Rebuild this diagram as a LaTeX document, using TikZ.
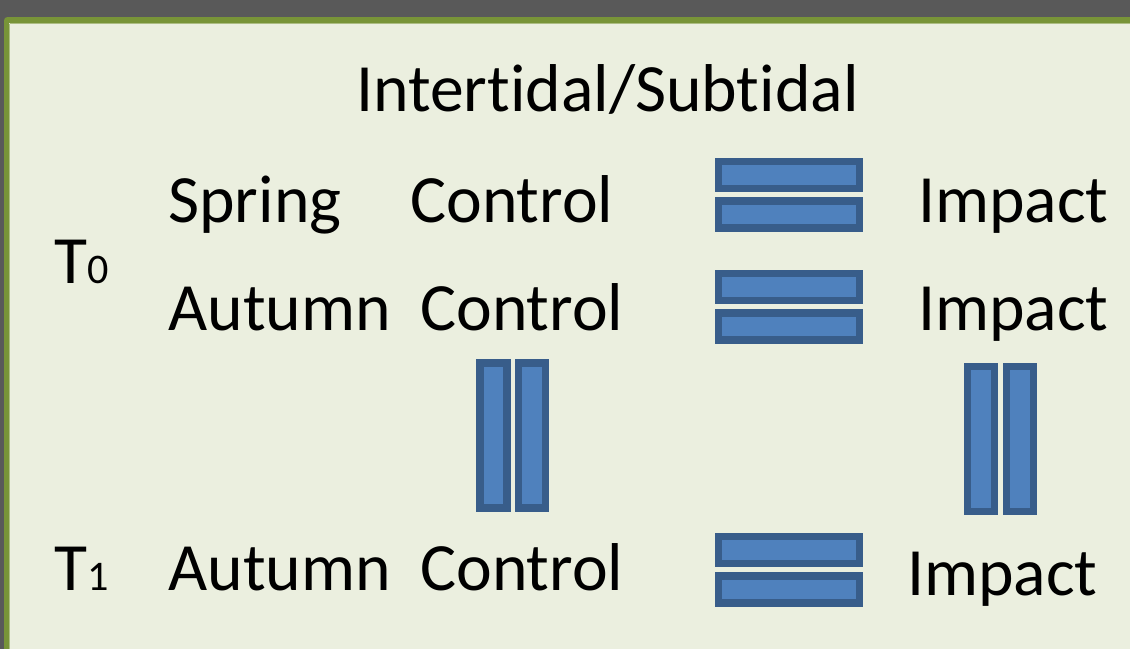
\documentclass[tikz,border=0pt]{standalone}
\usepackage{fontspec}
\setmainfont[Ligatures={NoCommon}]{Carlito}
\definecolor{frame}{HTML}{595959}
\definecolor{olive}{HTML}{789438}
\definecolor{paper}{HTML}{EBEFDF}
\definecolor{barfill}{HTML}{4F81BD}
\definecolor{barline}{HTML}{385D8A}
\newlength{\pxu}
\setlength{\pxu}{0.02cm}
\tikzset{
  lbl/.style={anchor=base west, inner sep=0pt, font=\fontsize{38.5}{44}\selectfont},
  hbar/.style={draw=barline, fill=barfill, line width=4pt, inner sep=0pt,
               minimum width=141\pxu, minimum height=27\pxu},
  vbar/.style={draw=barline, fill=barfill, line width=4pt, inner sep=0pt,
               minimum width=27\pxu, minimum height=145\pxu},
}
\begin{document}
\begin{tikzpicture}[x=0.02cm, y=-0.02cm]
  % page, frame and panel
  \fill[frame] (0,0) rectangle (1130,649);
  \useasboundingbox (0,0) rectangle (1130,649);
  \fill[olive, rounded corners=2pt] (4,17) rectangle (1140,660);
  \fill[paper] (9,23) rectangle (1140,660);
  \draw[olive!55!paper, line width=0.6pt] (9.5,23.5) -- (1140,23.5);
  \draw[olive!55!paper, line width=0.6pt] (9.5,23.5) -- (9.5,660);

  % heading
  \node[lbl] (head) at (356,111) {Intertidal/Subtidal};

  % time labels
  \node[lbl] (t0) at (54,283) {T\fontsize{24}{28}\selectfont 0};
  \node[lbl] (t1) at (54,590) {T\fontsize{24}{28}\selectfont 1};

  % row 1
  \node[lbl] (spring) at (168,222) {Spring};
  \node[lbl] (c1) at (410,222) {Control};
  \node[lbl] (i1) at (918,222) {Impact};
  % row 2
  \node[lbl] (aut2) at (168,330) {Autumn};
  \node[lbl] (c2) at (420,330) {Control};
  \node[lbl] (i2) at (918,330) {Impact};
  % row 3
  \node[lbl] (aut3) at (168,590) {Autumn};
  \node[lbl] (c3) at (420,590) {Control};
  \node[lbl] (i3) at (907,595) {Impact};

  % equals signs between control and impact
  \node[hbar] (e1a) at (789,175) {};
  \node[hbar] (e1b) at (789,214.5) {};
  \node[hbar] (e2a) at (789,287) {};
  \node[hbar] (e2b) at (789,326.5) {};
  \node[hbar] (e3a) at (789,550) {};
  \node[hbar] (e3b) at (789,589.5) {};

  % vertical equals signs between the two autumns
  \node[vbar] (vc1) at (493.5,435.5) {};
  \node[vbar] (vc2) at (532,435.5) {};
  \node[vbar] (vi1) at (981,439) {};
  \node[vbar] (vi2) at (1020,439) {};
\end{tikzpicture}
\end{document}
